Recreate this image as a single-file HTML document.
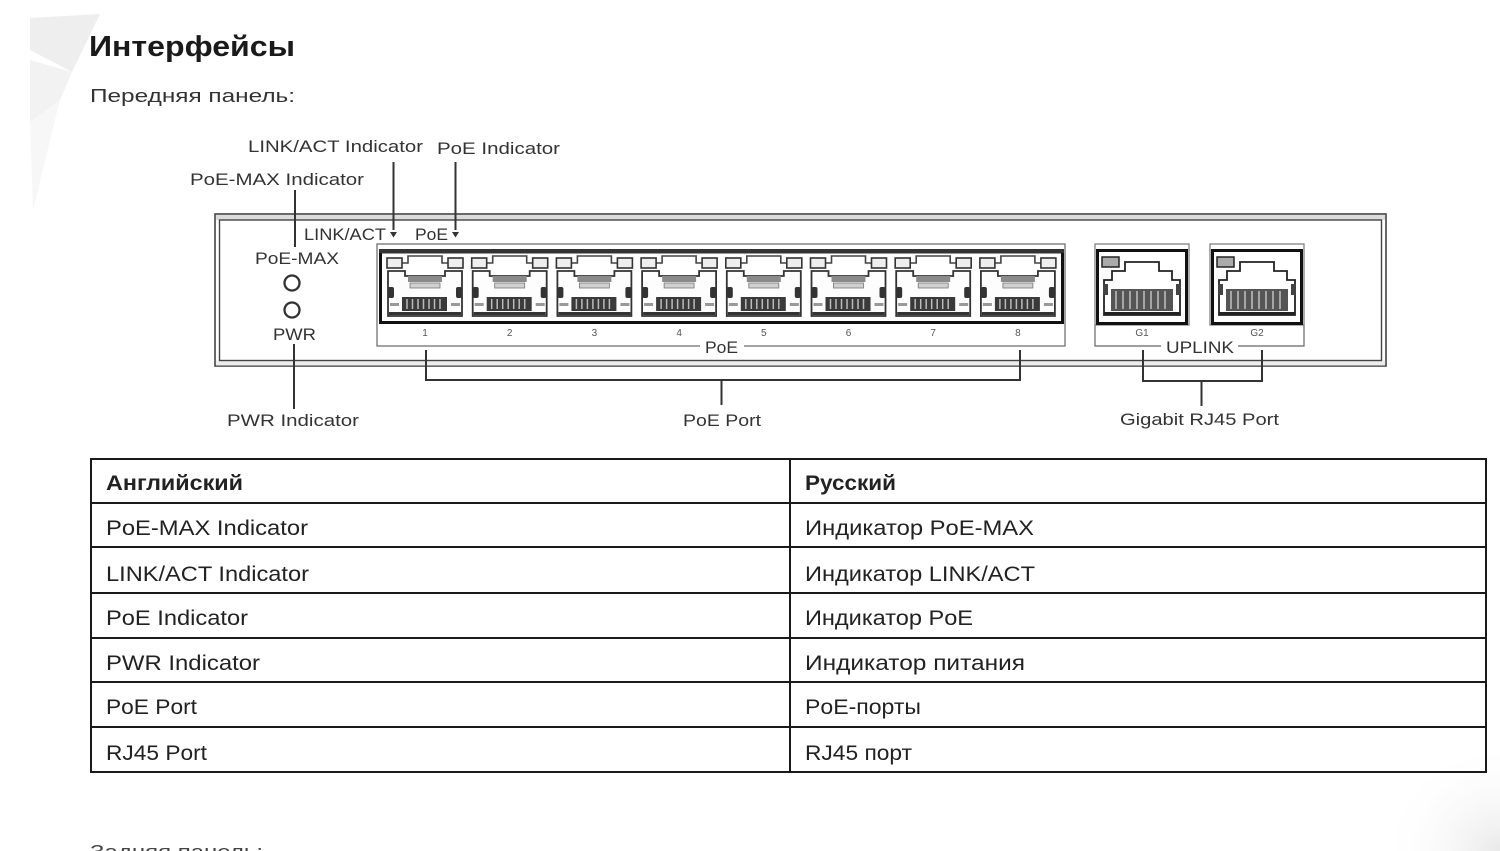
<!DOCTYPE html>
<html><head><meta charset="utf-8"><style>
html,body{margin:0;padding:0;background:#fff;}
svg{display:block;}
</style></head><body>
<svg width="1500" height="851" viewBox="0 0 1500 851" xmlns="http://www.w3.org/2000/svg" font-family="'Liberation Sans', sans-serif">
<defs>
<radialGradient id="rg" cx="1" cy="1" r="1">
<stop offset="0" stop-color="#e9e9e9"/><stop offset="1" stop-color="#ffffff" stop-opacity="0"/>
</radialGradient>
<g id="pp">
 <path d="M-23 263 h6 v-7 h34 v7 h6" fill="none" stroke="#444" stroke-width="1.6"/>
 <rect x="-38" y="258" width="15" height="10" fill="#eee" stroke="#333" stroke-width="1.6"/>
 <rect x="23" y="258" width="15" height="10" fill="#eee" stroke="#333" stroke-width="1.6"/>
 <path d="M-37 316 V271 H-20 V276 H20 V271 H37 V316 Z" fill="#fdfdfd" stroke="#333" stroke-width="1.8"/>
 <rect x="-17" y="276" width="34" height="6" fill="#8a8a8a"/>
 <rect x="-15" y="283" width="30" height="5" fill="#d0d0d0" stroke="#777" stroke-width="0.8"/>
 <rect x="-37" y="287" width="6" height="11" rx="2" fill="#333"/>
 <rect x="31" y="287" width="6" height="11" rx="2" fill="#333"/>
 <rect x="-23" y="297" width="45" height="14" fill="#3a3a3a"/>
 <path d="M-18 299 v10 M-12.5 299 v10 M-7 299 v10 M-1.5 299 v10 M4 299 v10 M9.5 299 v10 M15 299 v10" stroke="#bbb" stroke-width="1.5"/>
 <rect x="-35" y="303" width="9" height="3" fill="#999"/>
 <rect x="26" y="303" width="9" height="3" fill="#999"/>
 <rect x="-36" y="312" width="72" height="3" fill="#333"/>
</g>
<g id="up">
 <rect x="0" y="244" width="94" height="81" fill="#fff" stroke="#777" stroke-width="1.2"/>
 <rect x="2.5" y="250.5" width="89" height="73" fill="#fff" stroke="#111" stroke-width="3"/>
 <rect x="7" y="257" width="17" height="10" fill="#aaa" stroke="#222" stroke-width="1.5"/>
 <path d="M9 315 V280 H17 V271 H30 V262 H64 V271 H77 V280 H85 V315 Z" fill="#fff" stroke="#222" stroke-width="1.8"/>
 <rect x="8" y="284" width="5" height="11" fill="#444"/>
 <rect x="81" y="284" width="5" height="11" fill="#444"/>
 <rect x="16" y="289" width="62" height="22" fill="#555"/>
 <path d="M21 291 v18 M28 291 v18 M35 291 v18 M42 291 v18 M49 291 v18 M56 291 v18 M63 291 v18 M70 291 v18" stroke="#bbb" stroke-width="1.6"/>
 <rect x="9" y="312" width="76" height="3" fill="#222"/>
</g>
</defs>

<!-- watermark -->
<polygon points="30,18 100,14 72,72 30,50" fill="#eeeeee"/>
<polygon points="30,60 72,72 60,100 30,122" fill="#f2f2f2"/>
<polygon points="30,122 60,100 33,210" fill="#f7f7f7"/>
<rect x="1380" y="740" width="120" height="111" fill="url(#rg)"/>

<!-- heading -->
<text x="89" y="56" font-size="29" font-weight="bold" fill="#1a1a1a" textLength="206" lengthAdjust="spacingAndGlyphs">Интерфейсы</text>
<text x="90" y="102" font-size="18.5" fill="#333" textLength="205" lengthAdjust="spacingAndGlyphs">Передняя панель:</text>

<!-- top labels -->
<g font-size="17" fill="#333">
<text x="248" y="152" textLength="175" lengthAdjust="spacingAndGlyphs">LINK/ACT Indicator</text>
<text x="437" y="154" textLength="123" lengthAdjust="spacingAndGlyphs">PoE Indicator</text>
<text x="190" y="185" textLength="174" lengthAdjust="spacingAndGlyphs">PoE-MAX Indicator</text>
</g>

<!-- chassis -->
<rect x="215" y="214" width="1171" height="152" fill="#fff" stroke="#444" stroke-width="1.6"/>
<rect x="216" y="215" width="1169" height="5" fill="#dcdcdc"/>
<rect x="216" y="360.5" width="1169" height="5" fill="#ececec"/>
<rect x="219.5" y="220" width="1162" height="140.5" fill="#fff" stroke="#444" stroke-width="1.4"/>

<!-- indicator lines -->
<g stroke="#333" stroke-width="2">
<line x1="393.5" y1="162" x2="393.5" y2="230"/>
<line x1="455.5" y1="162" x2="455.5" y2="230"/>
<line x1="295" y1="190" x2="295" y2="247"/>
<line x1="294" y1="344" x2="294" y2="409"/>
</g>
<polygon points="390,232 397,232 393.5,237.5" fill="#333"/>
<polygon points="452,232 459,232 455.5,237.5" fill="#333"/>

<g font-size="17" fill="#333">
<text x="304" y="240" textLength="82" lengthAdjust="spacingAndGlyphs">LINK/ACT</text>
<text x="415" y="240" textLength="33" lengthAdjust="spacingAndGlyphs">PoE</text>
<text x="255" y="264" textLength="84" lengthAdjust="spacingAndGlyphs">PoE-MAX</text>
<text x="273" y="340" textLength="43" lengthAdjust="spacingAndGlyphs">PWR</text>
</g>
<circle cx="292" cy="283" r="7.5" fill="#fff" stroke="#333" stroke-width="2.3"/>
<circle cx="292" cy="310" r="7.5" fill="#fff" stroke="#333" stroke-width="2.3"/>

<!-- PoE port group -->
<rect x="377" y="244" width="688" height="102" fill="#fff" stroke="#666" stroke-width="1.2"/>
<rect x="379" y="249" width="685" height="4.5" fill="#333"/>
<path d="M380.5 253 V322.5 H1062.5 V253" stroke="#111" stroke-width="3" fill="none"/>
<use href="#pp" x="425"/>
<use href="#pp" x="509.7"/>
<use href="#pp" x="594.4"/>
<use href="#pp" x="679.1"/>
<use href="#pp" x="763.8"/>
<use href="#pp" x="848.5"/>
<use href="#pp" x="933.2"/>
<use href="#pp" x="1017.9"/>
<g font-size="10" fill="#555" text-anchor="middle">
<text x="425" y="336">1</text>
<text x="509.7" y="336">2</text>
<text x="594.4" y="336">3</text>
<text x="679.1" y="336">4</text>
<text x="763.8" y="336">5</text>
<text x="848.5" y="336">6</text>
<text x="933.2" y="336">7</text>
<text x="1017.9" y="336">8</text>
</g>
<rect x="700" y="339" width="44" height="14" fill="#fff"/>
<text x="705" y="353" font-size="17" fill="#333" textLength="33" lengthAdjust="spacingAndGlyphs">PoE</text>

<!-- Uplink ports -->
<path d="M1095 325 V346 H1304 V325" fill="none" stroke="#666" stroke-width="1.2"/>
<use href="#up" x="1095"/>
<use href="#up" x="1210"/>
<g font-size="10" fill="#555" text-anchor="middle">
<text x="1142" y="336">G1</text>
<text x="1257" y="336">G2</text>
</g>
<rect x="1161" y="339" width="77" height="14" fill="#fff"/>
<text x="1166" y="353" font-size="17" fill="#333" textLength="68" lengthAdjust="spacingAndGlyphs">UPLINK</text>

<!-- brackets -->
<g stroke="#333" stroke-width="2" fill="none">
<path d="M426 350 V380 H1020 V350"/>
<path d="M721.5 380 V405"/>
<path d="M1143 350 V381 H1262 V350"/>
<path d="M1201.5 381 V406"/>
</g>

<g font-size="17" fill="#333">
<text x="227" y="426" textLength="132" lengthAdjust="spacingAndGlyphs">PWR Indicator</text>
<text x="683" y="426" textLength="78" lengthAdjust="spacingAndGlyphs">PoE Port</text>
<text x="1120" y="425" textLength="159" lengthAdjust="spacingAndGlyphs">Gigabit RJ45 Port</text>
</g>

<!-- table -->
<g stroke="#1a1a1a" stroke-width="2">
<line x1="90" y1="459" x2="1487" y2="459"/>
<line x1="90" y1="503" x2="1487" y2="503"/>
<line x1="90" y1="547" x2="1487" y2="547"/>
<line x1="90" y1="593" x2="1487" y2="593"/>
<line x1="90" y1="638" x2="1487" y2="638"/>
<line x1="90" y1="682" x2="1487" y2="682"/>
<line x1="90" y1="727" x2="1487" y2="727"/>
<line x1="90" y1="772" x2="1487" y2="772"/>
<line x1="91" y1="458" x2="91" y2="773"/>
<line x1="790" y1="458" x2="790" y2="773"/>
<line x1="1486" y1="458" x2="1486" y2="773"/>
</g>
<g font-size="21" fill="#222">
<text x="106" y="490" font-weight="bold" textLength="137" lengthAdjust="spacingAndGlyphs">Английский</text>
<text x="805" y="490" font-weight="bold" textLength="91" lengthAdjust="spacingAndGlyphs">Русский</text>
<text x="106" y="535" textLength="202" lengthAdjust="spacingAndGlyphs">PoE-MAX Indicator</text>
<text x="805" y="535" textLength="229" lengthAdjust="spacingAndGlyphs">Индикатор PoE-MAX</text>
<text x="106" y="581" textLength="203" lengthAdjust="spacingAndGlyphs">LINK/ACT Indicator</text>
<text x="805" y="581" textLength="230" lengthAdjust="spacingAndGlyphs">Индикатор LINK/ACT</text>
<text x="106" y="625" textLength="142" lengthAdjust="spacingAndGlyphs">PoE Indicator</text>
<text x="805" y="625" textLength="168" lengthAdjust="spacingAndGlyphs">Индикатор PoE</text>
<text x="106" y="670" textLength="154" lengthAdjust="spacingAndGlyphs">PWR Indicator</text>
<text x="805" y="670" textLength="220" lengthAdjust="spacingAndGlyphs">Индикатор питания</text>
<text x="106" y="714" textLength="91" lengthAdjust="spacingAndGlyphs">PoE Port</text>
<text x="805" y="714" textLength="116" lengthAdjust="spacingAndGlyphs">PoE-порты</text>
<text x="106" y="760" textLength="101" lengthAdjust="spacingAndGlyphs">RJ45 Port</text>
<text x="805" y="760" textLength="107" lengthAdjust="spacingAndGlyphs">RJ45 порт</text>
</g>

<text x="90" y="858" font-size="18.5" fill="#444" textLength="173" lengthAdjust="spacingAndGlyphs">Задняя панель:</text>
</svg>
</body></html>
